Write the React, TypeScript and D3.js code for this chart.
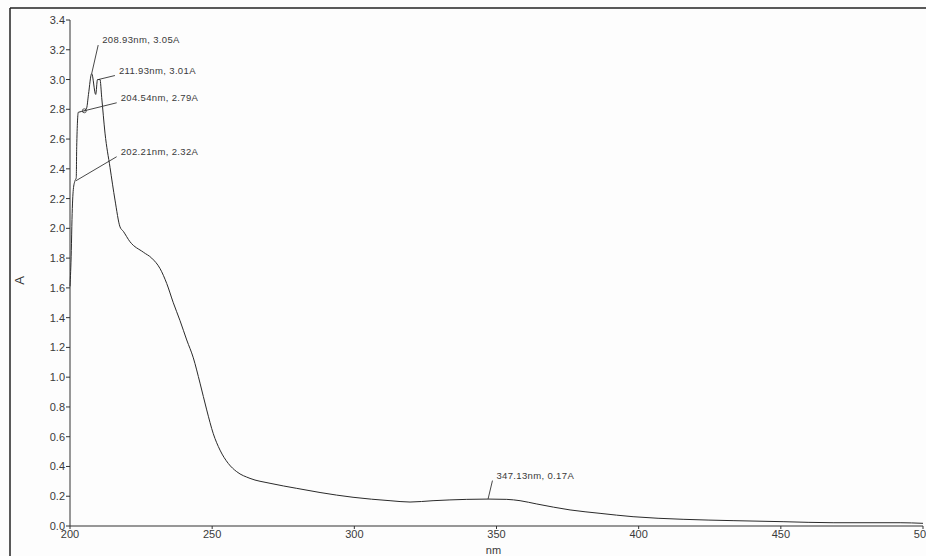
import React from "react";
import * as d3 from "d3";

const wavelengths = [
  200.0, 200.46, 200.7, 201.16, 201.76, 202.2, 202.36, 202.92, 205.03, 205.87, 206.5, 207.63, 209.04, 209.67, 210.55,
  211.15, 212.31, 214.07, 215.83, 217.59, 218.75, 221.1, 225.78, 228.74, 231.66, 234.01, 236.33, 238.69, 241.05,
  243.37, 245.73, 248.08, 250.4, 252.76, 255.68, 258.63, 263.31, 270.35, 279.74, 287.94, 299.54, 312.56, 319.59,
  327.68, 339.54, 347.03, 353.6, 358.28, 364.16, 375.87, 386.42, 398.03, 415.62, 433.2, 450.79, 468.38, 491.95, 500.0,
];
const absorbance = [
  1.61, 1.85, 2.06, 2.26, 2.32, 2.34, 2.55, 2.78, 2.79, 2.81, 2.9, 3.04, 2.9, 3.0, 3.0,
  2.88, 2.64, 2.41, 2.19, 2.01, 1.98, 1.91, 1.84, 1.8, 1.73, 1.63, 1.5, 1.38, 1.25,
  1.13, 0.96, 0.78, 0.62, 0.51, 0.42, 0.365, 0.32, 0.287, 0.253, 0.225, 0.193, 0.17, 0.161,
  0.17, 0.179, 0.181, 0.179, 0.17, 0.148, 0.108, 0.085, 0.0625, 0.045, 0.036, 0.029, 0.022, 0.022, 0.018,
];

const xTicks = [200, 250, 300, 350, 400, 450, 500];
const yTicks = [0, 0.2, 0.4, 0.6, 0.8, 1.0, 1.2, 1.4, 1.6, 1.8, 2.0, 2.2, 2.4, 2.6, 2.8, 3.0, 3.2, 3.4];

const peakLabels = ["208.93nm, 3.05A", "211.93nm, 3.01A", "204.54nm, 2.79A", "202.21nm, 2.32A", "347.13nm, 0.17A"];
const peakNm = [207.63, 210.0, 205.03, 202.1, 347.03];
const peakA = [3.04, 3.0, 2.79, 2.32, 0.181];
// leader line end offsets (px) relative to the anchor, and whether a small circle marks the point
const leaderDx = [6.5, 16.5, 32.4, 40.7, 4.4];
const leaderDy = [-28.5, -4, -8, -24, -18.5];
const markCircle = [false, false, true, false, false];

export default function App() {
  const W = 926;
  const H = 556;
  const x = d3.scaleLinear().domain([200, 500]).range([70, 923]);
  const y = d3.scaleLinear().domain([0, 3.4]).range([526, 20]);
  const data = wavelengths.map((w, i) => [w, absorbance[i]] as [number, number]);
  const line = d3
    .line<[number, number]>()
    .curve(d3.curveMonotoneX)
    .x((d) => x(d[0]))
    .y((d) => y(d[1]));

  const txt = "#3a3a3a";
  const font = "Arial, 'Liberation Sans', sans-serif";

  return (
    <svg
      width={W}
      height={H}
      style={{ position: "absolute", left: 0, top: 0, background: "#fff" }}
      fontFamily={font}
    >
      <rect x={0} y={0} width={W} height={H} fill="#fdfdfd" />
      {/* outer frame */}
      <line x1={10} y1={8} x2={W} y2={8} stroke="#222" strokeWidth={1.5} />
      <line x1={10} y1={8} x2={10} y2={H} stroke="#222" strokeWidth={1.5} />

      {/* y axis */}
      <line x1={x(200)} y1={y(3.4)} x2={x(200)} y2={y(0)} stroke="#333" strokeWidth={1} />
      {yTicks.map((t) => (
        <g key={"y" + t}>
          <line x1={x(200) - 4} x2={x(200)} y1={y(t)} y2={y(t)} stroke="#333" />
          <text x={x(200) - 5} y={y(t) + 4} fontSize={11} fill={txt} textAnchor="end">
            {t.toFixed(1)}
          </text>
        </g>
      ))}
      {/* x axis */}
      <line x1={x(200)} y1={y(0)} x2={x(500)} y2={y(0)} stroke="#333" strokeWidth={1.2} />
      {xTicks.map((t) => (
        <g key={"x" + t}>
          <line x1={x(t)} x2={x(t)} y1={y(0)} y2={y(0) + 3} stroke="#333" />
          <text x={x(t)} y={y(0) + 12} fontSize={11} fill={txt} textAnchor="middle">
            {t}
          </text>
        </g>
      ))}
      <text x={x(350) - 3} y={554} fontSize={11} fill={txt} textAnchor="middle">
        nm
      </text>
      <text
        transform={`translate(24, ${y(1.65)}) rotate(-90)`}
        fontSize={13}
        fill={txt}
        textAnchor="middle"
      >
        A
      </text>

      {/* spectrum */}
      <path d={line(data) || ""} fill="none" stroke="#2a2a2a" strokeWidth={1} />

      {/* peak annotations */}
      {peakLabels.map((lab, i) => {
        const px = x(peakNm[i]);
        const py = y(peakA[i]);
        const ex = px + leaderDx[i];
        const ey = py + leaderDy[i];
        return (
          <g key={lab}>
            <line x1={px} y1={py} x2={ex} y2={ey} stroke="#333" strokeWidth={0.9} />
            {markCircle[i] && <circle cx={px} cy={py} r={2} fill="none" stroke="#333" strokeWidth={0.8} />}
            <text x={ex + 4} y={ey - 2} fontSize={9.5} letterSpacing={0.35} fill={txt}>
              {lab}
            </text>
          </g>
        );
      })}
    </svg>
  );
}
